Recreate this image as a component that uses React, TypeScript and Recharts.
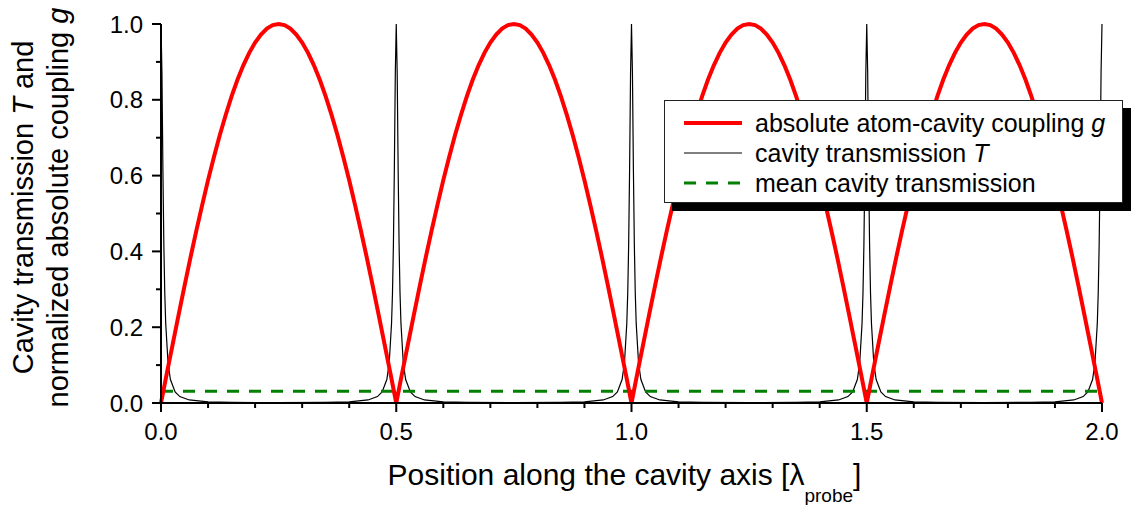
import { LineChart, Line, XAxis, YAxis, Legend } from 'recharts';

const FONT = '"Liberation Sans", Arial, Helvetica, sans-serif';

// absolute atom-cavity coupling g (red)
const gX = [
  0, 0.0125, 0.025, 0.0375, 0.05, 0.0625, 0.075, 0.0875, 0.1, 0.1125, 0.125, 0.1375, 0.15, 0.1625, 0.175, 0.1875, 0.2, 0.2125, 0.225, 0.2375,
  0.25, 0.2625, 0.275, 0.2875, 0.3, 0.3125, 0.325, 0.3375, 0.35, 0.3625, 0.375, 0.3875, 0.4, 0.4125, 0.425, 0.4375, 0.45, 0.4625, 0.475, 0.4875,
  0.5, 0.5125, 0.525, 0.5375, 0.55, 0.5625, 0.575, 0.5875, 0.6, 0.6125, 0.625, 0.6375, 0.65, 0.6625, 0.675, 0.6875, 0.7, 0.7125, 0.725, 0.7375,
  0.75, 0.7625, 0.775, 0.7875, 0.8, 0.8125, 0.825, 0.8375, 0.85, 0.8625, 0.875, 0.8875, 0.9, 0.9125, 0.925, 0.9375, 0.95, 0.9625, 0.975, 0.9875,
  1.0, 1.0125, 1.025, 1.0375, 1.05, 1.0625, 1.075, 1.0875, 1.1, 1.1125, 1.125, 1.1375, 1.15, 1.1625, 1.175, 1.1875, 1.2, 1.2125, 1.225, 1.2375,
  1.25, 1.2625, 1.275, 1.2875, 1.3, 1.3125, 1.325, 1.3375, 1.35, 1.3625, 1.375, 1.3875, 1.4, 1.4125, 1.425, 1.4375, 1.45, 1.4625, 1.475, 1.4875,
  1.5, 1.5125, 1.525, 1.5375, 1.55, 1.5625, 1.575, 1.5875, 1.6, 1.6125, 1.625, 1.6375, 1.65, 1.6625, 1.675, 1.6875, 1.7, 1.7125, 1.725, 1.7375,
  1.75, 1.7625, 1.775, 1.7875, 1.8, 1.8125, 1.825, 1.8375, 1.85, 1.8625, 1.875, 1.8875, 1.9, 1.9125, 1.925, 1.9375, 1.95, 1.9625, 1.975, 1.9875,
  2.0,
];
const gY = [
  0, 0.079, 0.156, 0.233, 0.309, 0.383, 0.454, 0.522, 0.588, 0.649, 0.707, 0.76, 0.809, 0.853, 0.891, 0.924, 0.951, 0.972, 0.988, 0.997,
  1, 0.997, 0.988, 0.972, 0.951, 0.924, 0.891, 0.853, 0.809, 0.76, 0.707, 0.649, 0.588, 0.522, 0.454, 0.383, 0.309, 0.233, 0.156, 0.079,
  0, 0.079, 0.156, 0.233, 0.309, 0.383, 0.454, 0.522, 0.588, 0.649, 0.707, 0.76, 0.809, 0.853, 0.891, 0.924, 0.951, 0.972, 0.988, 0.997,
  1, 0.997, 0.988, 0.972, 0.951, 0.924, 0.891, 0.853, 0.809, 0.76, 0.707, 0.649, 0.588, 0.522, 0.454, 0.383, 0.309, 0.233, 0.156, 0.079,
  0, 0.079, 0.156, 0.233, 0.309, 0.383, 0.454, 0.522, 0.588, 0.649, 0.707, 0.76, 0.809, 0.853, 0.891, 0.924, 0.951, 0.972, 0.988, 0.997,
  1, 0.997, 0.988, 0.972, 0.951, 0.924, 0.891, 0.853, 0.809, 0.76, 0.707, 0.649, 0.588, 0.522, 0.454, 0.383, 0.309, 0.233, 0.156, 0.079,
  0, 0.079, 0.156, 0.233, 0.309, 0.383, 0.454, 0.522, 0.588, 0.649, 0.707, 0.76, 0.809, 0.853, 0.891, 0.924, 0.951, 0.972, 0.988, 0.997,
  1, 0.997, 0.988, 0.972, 0.951, 0.924, 0.891, 0.853, 0.809, 0.76, 0.707, 0.649, 0.588, 0.522, 0.454, 0.383, 0.309, 0.233, 0.156, 0.079,
  0,
];

// cavity transmission T (black)
const tX = [
  0, 0.002, 0.004, 0.006, 0.008, 0.01, 0.015, 0.02, 0.03, 0.04, 0.06, 0.1, 0.15, 0.25,
  0.35, 0.4, 0.44, 0.46, 0.47, 0.48, 0.485, 0.49, 0.492, 0.494, 0.496, 0.498, 0.5,
  0.502, 0.504, 0.506, 0.508, 0.51, 0.515, 0.52, 0.53, 0.54, 0.56, 0.6, 0.65, 0.75,
  0.85, 0.9, 0.94, 0.96, 0.97, 0.98, 0.985, 0.99, 0.992, 0.994, 0.996, 0.998, 1.0,
  1.002, 1.004, 1.006, 1.008, 1.01, 1.015, 1.02, 1.03, 1.04, 1.06, 1.1, 1.15, 1.25,
  1.35, 1.4, 1.44, 1.46, 1.47, 1.48, 1.485, 1.49, 1.492, 1.494, 1.496, 1.498, 1.5,
  1.502, 1.504, 1.506, 1.508, 1.51, 1.515, 1.52, 1.53, 1.54, 1.56, 1.6, 1.65, 1.75,
  1.85, 1.9, 1.94, 1.96, 1.97, 1.98, 1.985, 1.99, 1.992, 1.994, 1.996, 1.998, 2.0,
];
const tY = [
  1, 0.87, 0.62, 0.42, 0.29, 0.21, 0.105, 0.062, 0.029, 0.017, 0.008, 0.003, 0.0016, 0.001,
  0.0016, 0.003, 0.008, 0.017, 0.029, 0.062, 0.105, 0.21, 0.29, 0.42, 0.62, 0.87, 1,
  0.87, 0.62, 0.42, 0.29, 0.21, 0.105, 0.062, 0.029, 0.017, 0.008, 0.003, 0.0016, 0.001,
  0.0016, 0.003, 0.008, 0.017, 0.029, 0.062, 0.105, 0.21, 0.29, 0.42, 0.62, 0.87, 1,
  0.87, 0.62, 0.42, 0.29, 0.21, 0.105, 0.062, 0.029, 0.017, 0.008, 0.003, 0.0016, 0.001,
  0.0016, 0.003, 0.008, 0.017, 0.029, 0.062, 0.105, 0.21, 0.29, 0.42, 0.62, 0.87, 1,
  0.87, 0.62, 0.42, 0.29, 0.21, 0.105, 0.062, 0.029, 0.017, 0.008, 0.003, 0.0016, 0.001,
  0.0016, 0.003, 0.008, 0.017, 0.029, 0.062, 0.105, 0.21, 0.29, 0.42, 0.62, 0.87, 1,
];

// mean cavity transmission (green dashed)
const meanX = [0, 2];
const meanY = [0.031, 0.031];

const xTicks = [0, 0.1, 0.2, 0.3, 0.4, 0.5, 0.6, 0.7, 0.8, 0.9, 1.0, 1.1, 1.2, 1.3, 1.4, 1.5, 1.6, 1.7, 1.8, 1.9, 2.0];
const yTicks = [0, 0.1, 0.2, 0.3, 0.4, 0.5, 0.6, 0.7, 0.8, 0.9, 1.0];

const toPoints = (xs: number[], ys: number[]) => xs.map((x, i) => ({ x, y: ys[i] }));
const gData = toPoints(gX, gY);
const tData = toPoints(tX, tY);
const meanData = toPoints(meanX, meanY);

const XTick = ({ x, y, payload }: any) => {
  const v = payload.value as number;
  const major = Math.round(v * 10) % 5 === 0;
  return (
    <g>
      <line x1={x} x2={x} y1={y} y2={y + (major ? 9 : 5)} stroke="#000" strokeWidth={2} />
      {major && (
        <text x={x} y={y + 37} textAnchor="middle" fontSize={24} fontFamily={FONT} fill="#000">
          {v.toFixed(1)}
        </text>
      )}
    </g>
  );
};

const YTick = ({ x, y, payload }: any) => {
  const v = payload.value as number;
  const major = Math.round(v * 10) % 2 === 0;
  return (
    <g>
      <line x1={x - (major ? 9 : 5)} x2={x} y1={y} y2={y} stroke="#000" strokeWidth={2} />
      {major && (
        <text x={x - 18} y={y} dy="0.36em" textAnchor="end" fontSize={24} fontFamily={FONT} fill="#000">
          {v.toFixed(1)}
        </text>
      )}
    </g>
  );
};

const XLabel = ({ viewBox }: any) => {
  const cx = viewBox.x + viewBox.width / 2 - 7;
  return (
    <text x={cx} y={viewBox.y + 82} textAnchor="middle" fontSize={30} fontFamily={FONT} fill="#000">
      Position along the cavity axis [λ
      <tspan fontSize={19} dy={17}>probe</tspan>
      <tspan dy={-17}>]</tspan>
    </text>
  );
};

const YLabel = ({ viewBox }: any) => {
  const cy = viewBox.y + viewBox.height / 2 - 6;
  return (
    <g fontSize={29} fontFamily={FONT} fill="#000">
      <text x={33} y={cy} textAnchor="middle" transform={`rotate(-90, 33, ${cy})`}>
        Cavity transmission <tspan fontStyle="italic">T</tspan> and
      </text>
      <text x={68} y={cy} textAnchor="middle" transform={`rotate(-90, 68, ${cy})`}>
        normalized absolute coupling <tspan fontStyle="italic">g</tspan>
      </text>
    </g>
  );
};

const legendRows = [
  { label: 'absolute atom-cavity coupling ', italic: 'g', color: '#ff0000', width: 4, dash: undefined },
  { label: 'cavity transmission ', italic: 'T', color: '#000', width: 1.2, dash: undefined },
  { label: 'mean cavity transmission', italic: '', color: '#008000', width: 3, dash: '12 10' },
];

const LegendBox = () => (
  <div
    style={{
      width: 459,
      height: 103,
      boxSizing: 'border-box',
      border: '1px solid #222',
      background: '#fff',
      boxShadow: '8px 8px 0 #000',
      paddingTop: 7,
      fontFamily: FONT,
      fontSize: 25,
      color: '#000',
    }}
  >
    {legendRows.map((r) => (
      <div key={r.label} style={{ height: 30, display: 'flex', alignItems: 'center' }}>
        <svg width={58} height={10} style={{ marginLeft: 19 }}>
          <line x1={0} x2={58} y1={5} y2={5} stroke={r.color} strokeWidth={r.width} strokeDasharray={r.dash} />
        </svg>
        <span style={{ marginLeft: 13, whiteSpace: 'pre' }}>
          {r.label}
          {r.italic && <i>{r.italic}</i>}
        </span>
      </div>
    ))}
  </div>
);

export default function App() {
  return (
    <div style={{ position: 'absolute', left: 0, top: 0, background: '#fff' }}>
      <LineChart width={1132} height={505} margin={{ top: 24, right: 30, bottom: 0, left: 0 }}>
        <XAxis
          dataKey="x"
          type="number"
          domain={[0, 2]}
          ticks={xTicks}
          interval={0}
          height={102}
          tickSize={0}
          tickMargin={0}
          tickLine={false}
          axisLine={{ stroke: '#000', strokeWidth: 2 }}
          tick={<XTick />}
          label={<XLabel />}
        />
        <YAxis
          dataKey="y"
          type="number"
          domain={[0, 1]}
          ticks={yTicks}
          interval={0}
          width={161}
          tickSize={0}
          tickMargin={0}
          tickLine={false}
          axisLine={{ stroke: '#000', strokeWidth: 2 }}
          tick={<YTick />}
          label={<YLabel />}
        />
        <Line data={tData} dataKey="y" stroke="#000" strokeWidth={1.2} dot={false} isAnimationActive={false} />
        <Line
          data={meanData}
          dataKey="y"
          stroke="#008000"
          strokeWidth={3}
          strokeDasharray="12 10"
          dot={false}
          isAnimationActive={false}
        />
        <Line data={gData} dataKey="y" stroke="#ff0000" strokeWidth={4} dot={false} isAnimationActive={false} />
        <Legend
          layout="vertical"
          align="center"
          verticalAlign="middle"
          content={<LegendBox />}
          wrapperStyle={{ left: 664, top: 100, width: 459, height: 103 }}
        />
      </LineChart>
    </div>
  );
}
